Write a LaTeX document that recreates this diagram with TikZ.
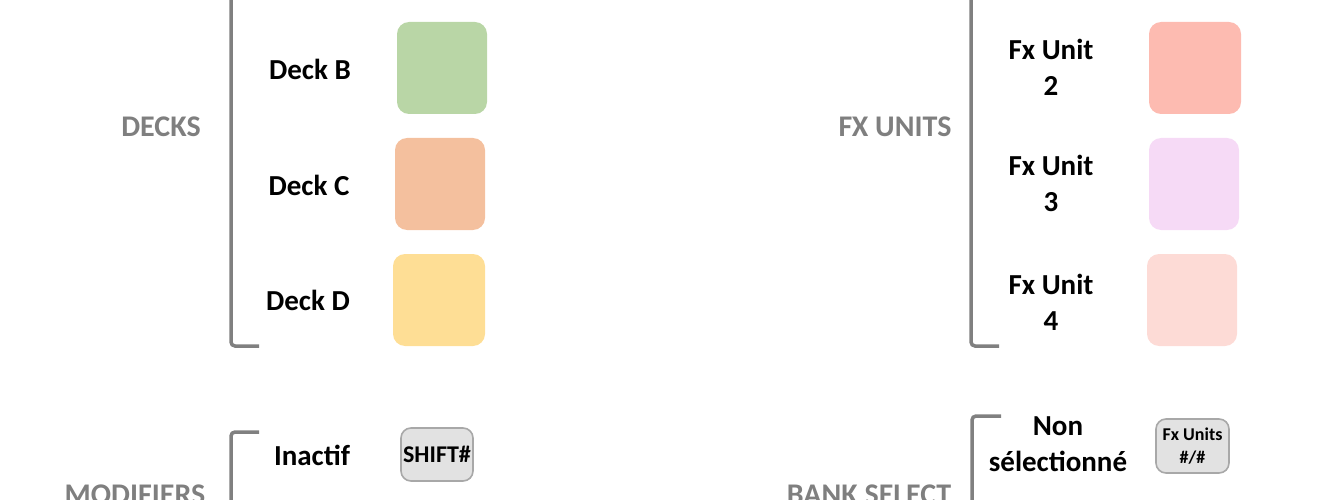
\documentclass[tikz,border=0pt]{standalone}
\usepackage{fontspec}
\setmainfont{Carlito}
\definecolor{brk}{HTML}{808080}
\definecolor{grp}{HTML}{7F7F7F}
\definecolor{deckB}{HTML}{B9D6A6}
\definecolor{deckC}{HTML}{F4C09E}
\definecolor{deckD}{HTML}{FEDE95}
\definecolor{fxB}{HTML}{FDBBB1}
\definecolor{fxC}{HTML}{F6DAF6}
\definecolor{fxD}{HTML}{FDDBD6}
\definecolor{btnfill}{HTML}{E2E2E2}
\definecolor{btnline}{HTML}{A8A8A8}
\tikzset{
  swatch/.style={rectangle, rounded corners=12pt, draw=none, inner sep=0pt},
  lbl/.style={font=\fontsize{29}{36}\selectfont\bfseries, align=center, inner sep=0pt, text=black},
  grouplbl/.style={font=\fontsize{30}{36}\selectfont\bfseries, inner sep=0pt, text=grp},
  bracket/.style={draw=brk, line width=3.5pt, rounded corners=4pt},
  button/.style={rectangle, rounded corners=10pt, fill=btnfill, draw=btnline, line width=1.6pt, inner sep=0pt, align=center}
}
\begin{document}
\begin{tikzpicture}[x=1pt,y=-1pt]
\useasboundingbox (0,0) rectangle (1334,500);
% brackets
\draw[bracket] (231,-10) -- (231,346) -- (259,346);
\draw[bracket] (971,-10) -- (971,346) -- (999,346);
\draw[bracket] (259,432) -- (231,432) -- (231,510);
\draw[bracket] (1001,416) -- (972,416) -- (972,510);
% group labels
\node[grouplbl] (decks) at (161,127) {DECKS};
\node[grouplbl] (fxunits) at (895,127) {FX UNITS};
\node[grouplbl] (modifiers) at (135,495) {MODIFIERS};
\node[grouplbl] (banksel) at (869,495) {BANK SELECT};
% deck labels and swatches
\node[lbl] (lB) at (310,69) {Deck B};
\node[lbl] (lC) at (309,185) {Deck C};
\node[lbl] (lD) at (308,300) {Deck D};
\node[swatch, fill=deckB, minimum width=90pt, minimum height=92pt] (sB) at (442,68) {};
\node[swatch, fill=deckC, minimum width=90pt, minimum height=92pt] (sC) at (440,184) {};
\node[swatch, fill=deckD, minimum width=92pt, minimum height=92pt] (sD) at (439,300) {};
% fx labels and swatches
\node[lbl] (f2) at (1051,67) {Fx Unit\\2};
\node[lbl] (f3) at (1051,183) {Fx Unit\\3};
\node[lbl] (f4) at (1051,302) {Fx Unit\\4};
\node[swatch, fill=fxB, minimum width=92pt, minimum height=92pt] (s2) at (1195,68) {};
\node[swatch, fill=fxC, minimum width=90pt, minimum height=92pt] (s3) at (1194,184) {};
\node[swatch, fill=fxD, minimum width=90pt, minimum height=92pt] (s4) at (1192,300) {};
% bottom rows
\node[lbl] (inactif) at (312,455) {Inactif};
\node[button, minimum width=72pt, minimum height=53pt, font=\fontsize{24}{28}\selectfont\bfseries] (shift) at (437,454.5) {SHIFT\#};
\node[lbl] (nonsel) at (1058,444) {Non\\sélectionné};
\node[button, minimum width=73pt, minimum height=54pt, font=\fontsize{18}{23}\selectfont\bfseries] (fxbtn) at (1192.5,446) {Fx Units\\\#/\#};
\end{tikzpicture}
\end{document}
